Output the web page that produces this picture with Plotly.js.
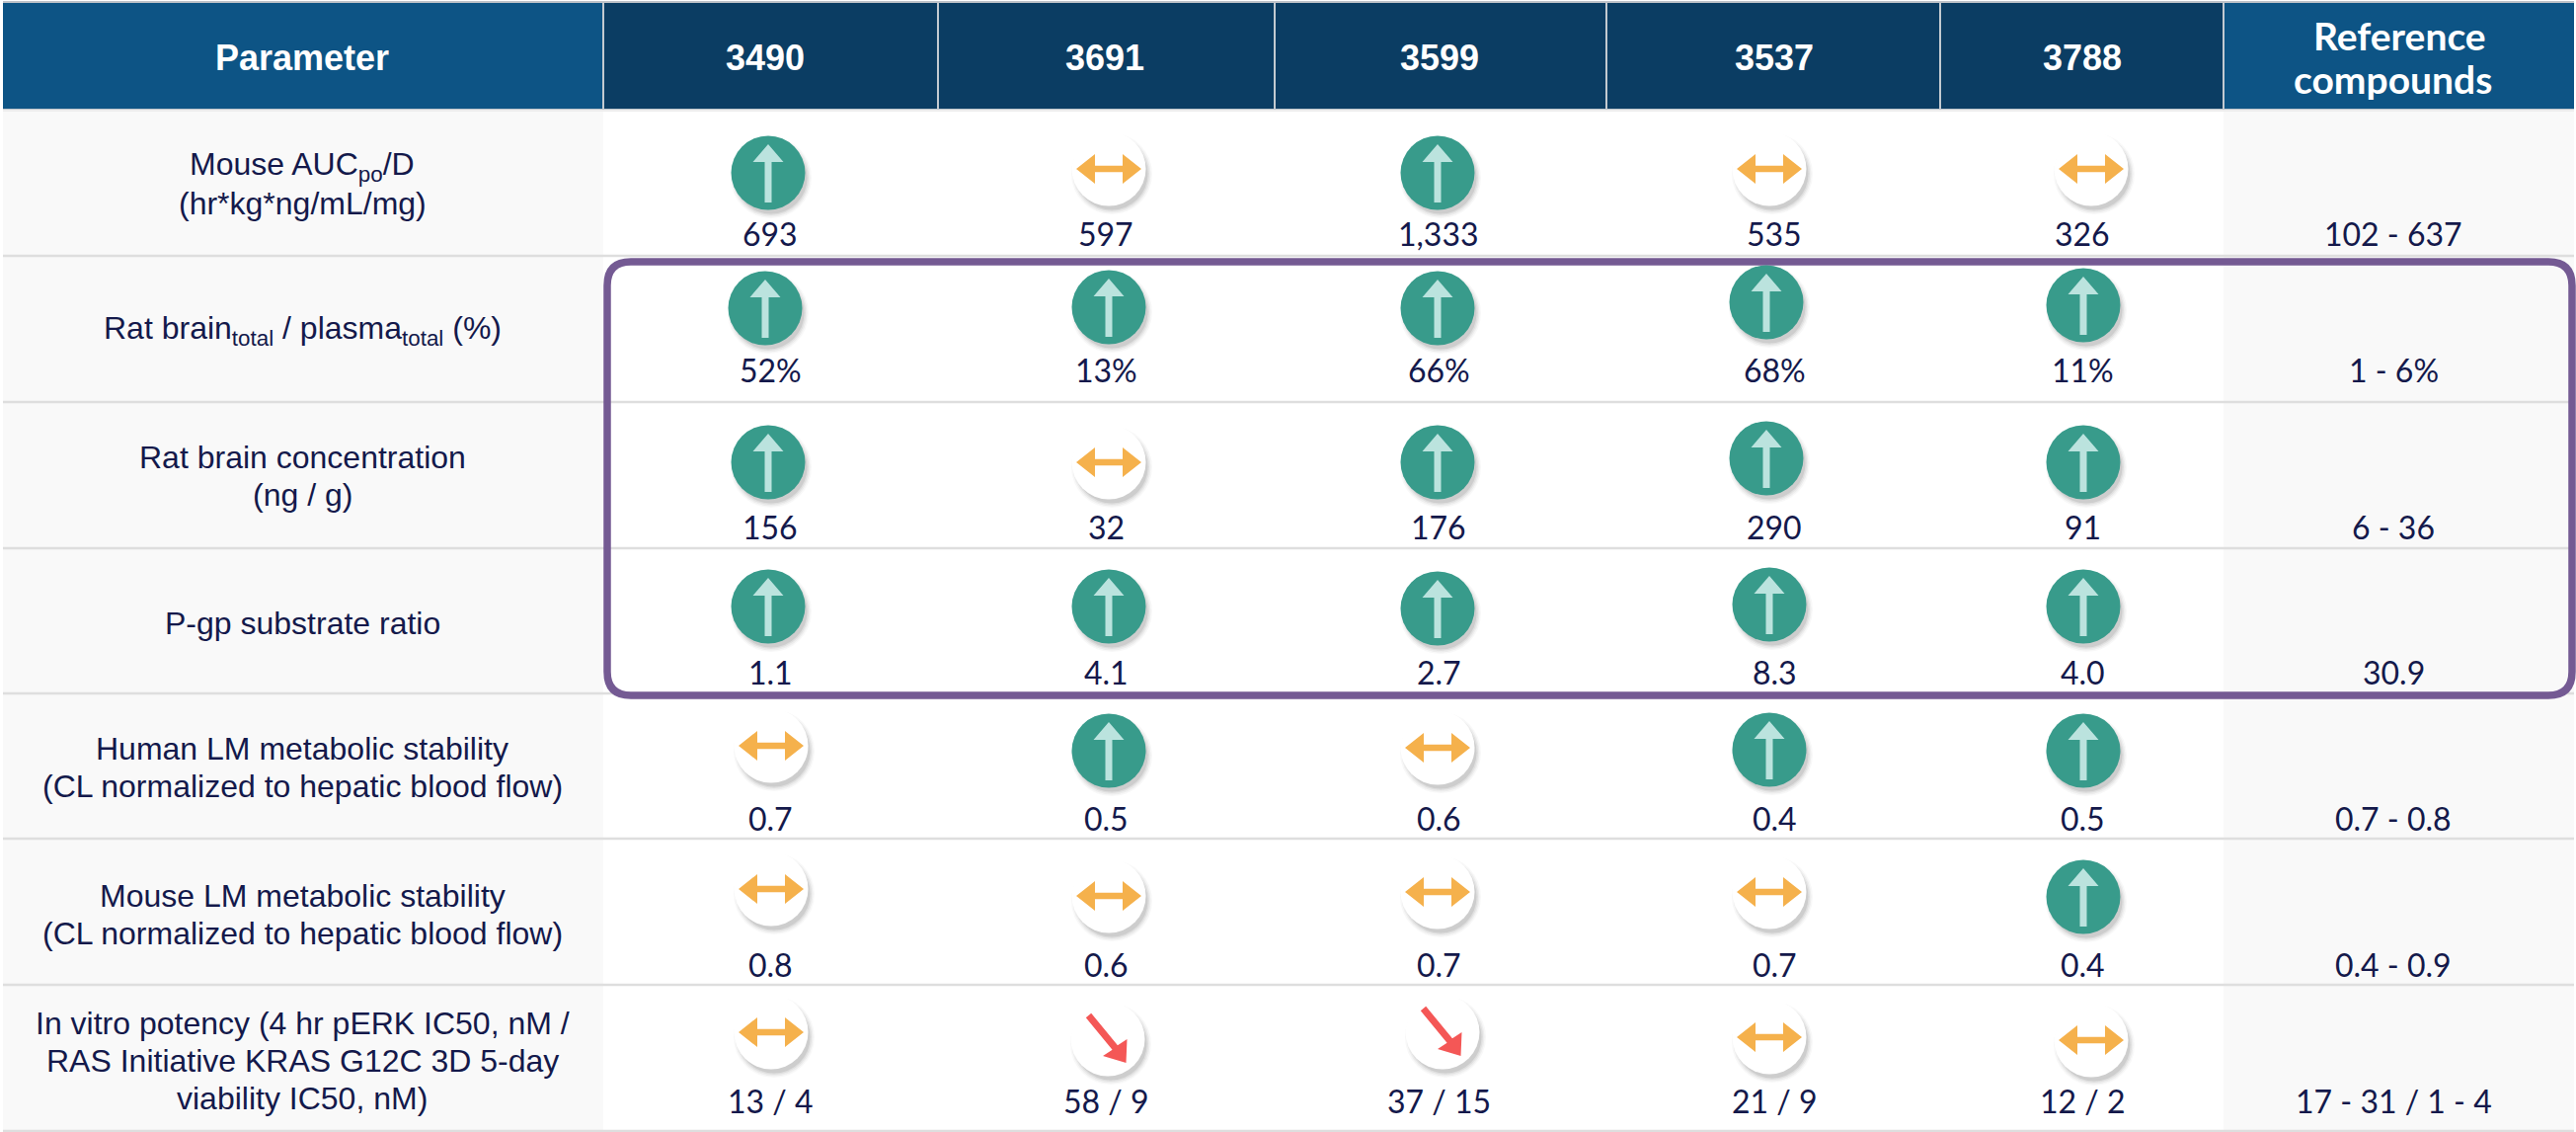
<!DOCTYPE html>
<html>
<head>
<meta charset="utf-8">
<script src="https://cdn.plot.ly/plotly-3.0.1.min.js"></script>
<style>html,body{margin:0;padding:0;background:#fff}#chart{width:2609px;height:1146px}</style>
</head>
<body>
<div id="chart"></div>
<script>
// ---------- data ----------
const headerFirst = "Parameter";
const compounds = ["3490", "3691", "3599", "3537", "3788"];
const headerLast = ["Reference", "compounds"];
const parameters = [
  ["Mouse AUC<sub>po</sub>/D", "(hr*kg*ng/mL/mg)"],
  ["Rat brain<sub>total</sub> / plasma<sub>total</sub> (%)"],
  ["Rat brain concentration", "(ng / g)"],
  ["P-gp substrate ratio"],
  ["Human LM metabolic stability", "(CL normalized to hepatic blood flow)"],
  ["Mouse LM metabolic stability", "(CL normalized to hepatic blood flow)"],
  ["In vitro potency (4 hr pERK IC50, nM /", "RAS Initiative KRAS G12C 3D 5-day", "viability IC50, nM)"]
];
const values = [
  ["693", "597", "1,333", "535", "326"],
  ["52%", "13%", "66%", "68%", "11%"],
  ["156", "32", "176", "290", "91"],
  ["1.1", "4.1", "2.7", "8.3", "4.0"],
  ["0.7", "0.5", "0.6", "0.4", "0.5"],
  ["0.8", "0.6", "0.7", "0.7", "0.4"],
  ["13 / 4", "58 / 9", "37 / 15", "21 / 9", "12 / 2"]
];
const references = ["102 - 637", "1 - 6%", "6 - 36", "30.9", "0.7 - 0.8", "0.4 - 0.9", "17 - 31 / 1 - 4"];
// u = improved, n = neutral, d = worse
const directions = [
  ["u", "n", "u", "n", "n"],
  ["u", "u", "u", "u", "u"],
  ["u", "n", "u", "u", "u"],
  ["u", "u", "u", "u", "u"],
  ["n", "u", "n", "u", "u"],
  ["n", "n", "n", "n", "u"],
  ["n", "d", "d", "n", "n"]
];

// ---------- layout (axis units equal picture pixels) ----------
const W = 2609, H = 1146;
const colEdges = [3, 611, 950, 1291, 1627, 1965, 2252, 2607];
const rowEdges = [111, 259, 407, 555, 702, 849, 997, 1145];
const paramX = 306, refX = 2424;
const headerX = [775, 1119, 1458, 1797, 2109];
const paramY = [187, 334, 482, 631, 777, 926, 1074];
const paramPitch = 38;
const valueColX = [780, 1120, 1457, 1797, 2109];
const valueY = [236, 374, 533, 680, 828, 976, 1114];
const iconX = [
  [778, 1123, 1456, 1792, 2118],
  [775, 1123, 1456, 1789, 2110],
  [778, 1123, 1456, 1789, 2110],
  [778, 1123, 1456, 1792, 2110],
  [781, 1123, 1456, 1792, 2110],
  [781, 1123, 1456, 1792, 2110],
  [781, 1122, 1461, 1792, 2118]
];
const iconY = [
  [175, 171, 175, 171, 171],
  [312, 311, 312, 306, 309],
  [468, 468, 468, 464, 468],
  [614, 614, 616, 612, 614],
  [755, 760, 757, 759, 760],
  [900, 907, 903, 903, 908],
  [1045, 1052, 1045, 1050, 1053]
];
const NAVY = "#14194B", TEAL = "#389B8B", MINT = "#BBE3DE", AMBER = "#F5B14C", RED = "#F45756";
const SANS = "Liberation Sans, Arial, sans-serif", CAL = "Lato, sans-serif";

const glyphs = {
  u: [[0,-29],[15.5,-11],[3.5,-11],[3.5,30],[-3.5,30],[-3.5,-11],[-15.5,-11]],
  n: [[-33,0],[-14,-15],[-14,-3.3],[14,-3.3],[14,-15],[33,0],[14,15],[14,3.3],[-14,3.3],[-14,15]],
  d: [[-16.8,-26.2],[9.95,6.3],[19.5,0],[18.5,24],[-5,17],[4.55,10.7],[-22.2,-21.8]]
};
const glyphColor = {u: MINT, n: AMBER, d: RED};

// ---------- build ----------
const cells = [];
directions.forEach((row, r) => row.forEach((dir, c) => cells.push({dir, x: iconX[r][c], y: iconY[r][c]})));

const traces = [];
[[82,.035],[79,.055],[76,.08],[73,.11]].forEach(([size, a]) => traces.push({
  type: "scatter", mode: "markers", hoverinfo: "skip",
  x: cells.map(k => k.x + 3), y: cells.map(k => k.y + 5),
  marker: {size, color: `rgba(60,60,60,${a})`, line: {width: 0}}
}));
traces.push({
  type: "scatter", mode: "markers", hoverinfo: "skip",
  x: cells.map(k => k.x), y: cells.map(k => k.y),
  marker: {size: 75, color: cells.map(k => k.dir === "u" ? TEAL : "#FFFFFF"), line: {width: 0}}
});
["u", "n", "d"].forEach(kind => {
  const xs = [], ys = [];
  cells.filter(k => k.dir === kind).forEach(k => {
    const g = glyphs[kind];
    g.concat([g[0]]).forEach(p => { xs.push(k.x + p[0]); ys.push(k.y + p[1]); });
    xs.push(null); ys.push(null);
  });
  traces.push({type: "scatter", mode: "lines", hoverinfo: "skip", x: xs, y: ys, fill: "toself",
    fillcolor: glyphColor[kind], line: {width: 0, color: glyphColor[kind]}});
});

const rect = (x0, y0, x1, y1, fill) => ({type: "rect", layer: "below", x0, y0, x1, y1, fillcolor: fill, line: {width: 0}});
const hline = (y, c, w) => ({type: "line", layer: "below", x0: colEdges[0], x1: colEdges[7], y0: y, y1: y, line: {color: c, width: w}});
const shapes = [];
shapes.push(rect(colEdges[0], rowEdges[0], colEdges[1], H, "#F9F9F9"));
shapes.push(rect(colEdges[6], rowEdges[0], colEdges[7], H, "#F9F9F9"));
shapes.push(rect(colEdges[0], 3, colEdges[1], 110, "#0D5485"));
shapes.push(rect(colEdges[1], 3, colEdges[6], 110, "#0B3D63"));
shapes.push(rect(colEdges[6], 3, colEdges[7], 110, "#0D5485"));
shapes.push(hline(2, "#BFC3C8", 2));
shapes.push(hline(110.5, "#BFC6CC", 1));
shapes.push(hline(112, "#EDEDED", 2));
colEdges.slice(1, 7).forEach(x => shapes.push({type: "line", layer: "below", x0: x, x1: x, y0: 3, y1: 110, line: {color: "#C3CAD0", width: 2}}));
rowEdges.slice(1).forEach(y => shapes.push(hline(y, "#DEDEDE", 2.5)));
const bx0 = 615, bx1 = 2605, by0 = 265, by1 = 704, br = 24;
shapes.push({type: "path", layer: "below", line: {color: "#745A93", width: 7.5},
  path: `M ${bx0+br} ${by0} L ${bx1-br} ${by0} Q ${bx1} ${by0} ${bx1} ${by0+br} L ${bx1} ${by1-br} Q ${bx1} ${by1} ${bx1-br} ${by1} L ${bx0+br} ${by1} Q ${bx0} ${by1} ${bx0} ${by1-br} L ${bx0} ${by0+br} Q ${bx0} ${by0} ${bx0+br} ${by0} Z`});

const annotations = [];
const note = (x, y, text, family, size, color, bold) => annotations.push({
  x, y, xref: "x", yref: "y", text: bold ? `<b>${text}</b>` : text, showarrow: false,
  xanchor: "center", yanchor: "middle", align: "center", font: {family, size, color}
});
note(paramX, 58, headerFirst, SANS, 36, "#FFFFFF", true);
compounds.forEach((t, c) => note(headerX[c], 58, t, SANS, 36, "#FFFFFF", true));
note(2430, 36, headerLast[0], CAL, 39, "#FFFFFF", true);
note(2423, 80, headerLast[1], CAL, 39, "#FFFFFF", true);
parameters.forEach((lines, r) => lines.forEach((t, i) =>
  note(paramX, paramY[r] + (i - (lines.length - 1) / 2) * paramPitch, t, SANS, 32, NAVY, false)));
values.forEach((row, r) => row.forEach((t, c) => note(valueColX[c], valueY[r], t, CAL, 32, NAVY, false)));
references.forEach((t, r) => note(refX, valueY[r], t, CAL, 32, NAVY, false));

const axis = {visible: false, fixedrange: true, zeroline: false, showgrid: false};
Plotly.newPlot("chart", traces, {
  width: W, height: H, margin: {l: 0, r: 0, t: 0, b: 0, pad: 0},
  paper_bgcolor: "#FFFFFF", plot_bgcolor: "#FFFFFF", showlegend: false,
  xaxis: Object.assign({range: [0, W]}, axis),
  yaxis: Object.assign({range: [H, 0]}, axis),
  shapes, annotations
}, {displayModeBar: false, responsive: false});
</script>
</body>
</html>
